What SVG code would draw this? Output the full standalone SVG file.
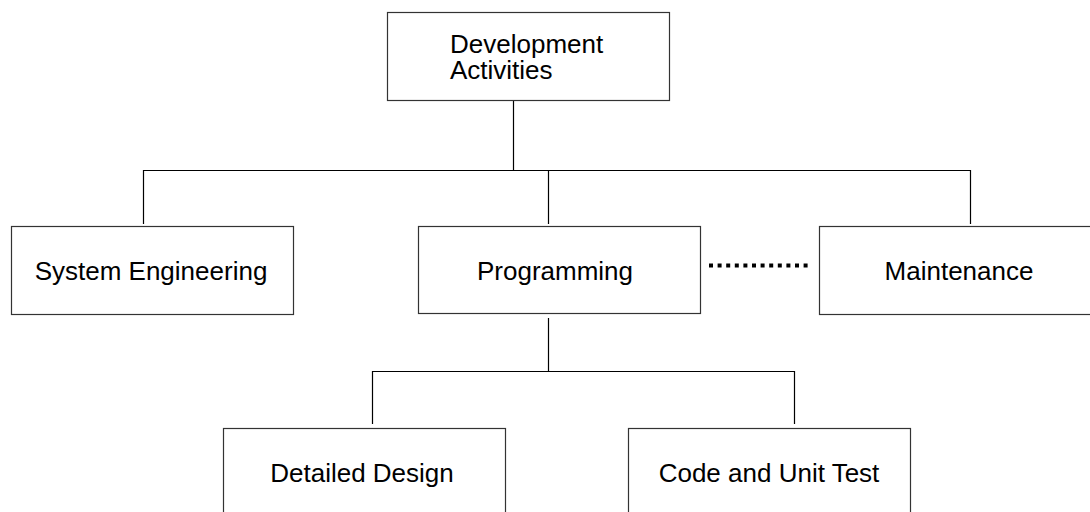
<svg xmlns="http://www.w3.org/2000/svg" width="1090" height="512" viewBox="0 0 1090 512">
<style>
.box{fill:#fff;stroke:#333;stroke-width:1.2}
.lbl{font-family:"Liberation Sans",Arial,sans-serif;font-size:26px;fill:#000}
.mid{text-anchor:middle}
.con{fill:none;stroke:#000;stroke-width:1.2}
.dots{fill:none;stroke:#000;stroke-width:4;stroke-dasharray:4 4.6}
</style>
<rect width="1090" height="512" fill="#fff"/>
<g id="connectors">
<path class="con" d="M513.5,100 V170.5 M143.5,224 V170.5 H970.5 V224 M548.5,170.5 V224"/>
<path class="con" d="M548.5,318 V371.5 M372.5,424 V371.5 H794.5 V424"/>
<path class="dots" d="M709,265.5 H808"/>
</g>
<g id="n-dev">
<rect class="box" x="387.5" y="12.5" width="282" height="88"/>
<text class="lbl" x="450" y="53"><tspan x="450" y="53">Development</tspan><tspan x="450" y="79">Activities</tspan></text>
</g>
<g id="n-sys">
<rect class="box" x="11.5" y="226.5" width="282" height="88"/>
<text class="lbl mid" x="151" y="280">System Engineering</text>
</g>
<g id="n-prog">
<rect class="box" x="418.5" y="226.5" width="282" height="87"/>
<text class="lbl mid" x="555" y="280">Programming</text>
</g>
<g id="n-maint">
<rect class="box" x="819.5" y="226.5" width="282" height="88"/>
<text class="lbl mid" x="959" y="280">Maintenance</text>
</g>
<g id="n-detail">
<rect class="box" x="223.5" y="428.5" width="282" height="90"/>
<text class="lbl mid" x="362" y="482">Detailed Design</text>
</g>
<g id="n-code">
<rect class="box" x="628.5" y="428.5" width="282" height="90"/>
<text class="lbl mid" x="769" y="482">Code and Unit Test</text>
</g>
</svg>
